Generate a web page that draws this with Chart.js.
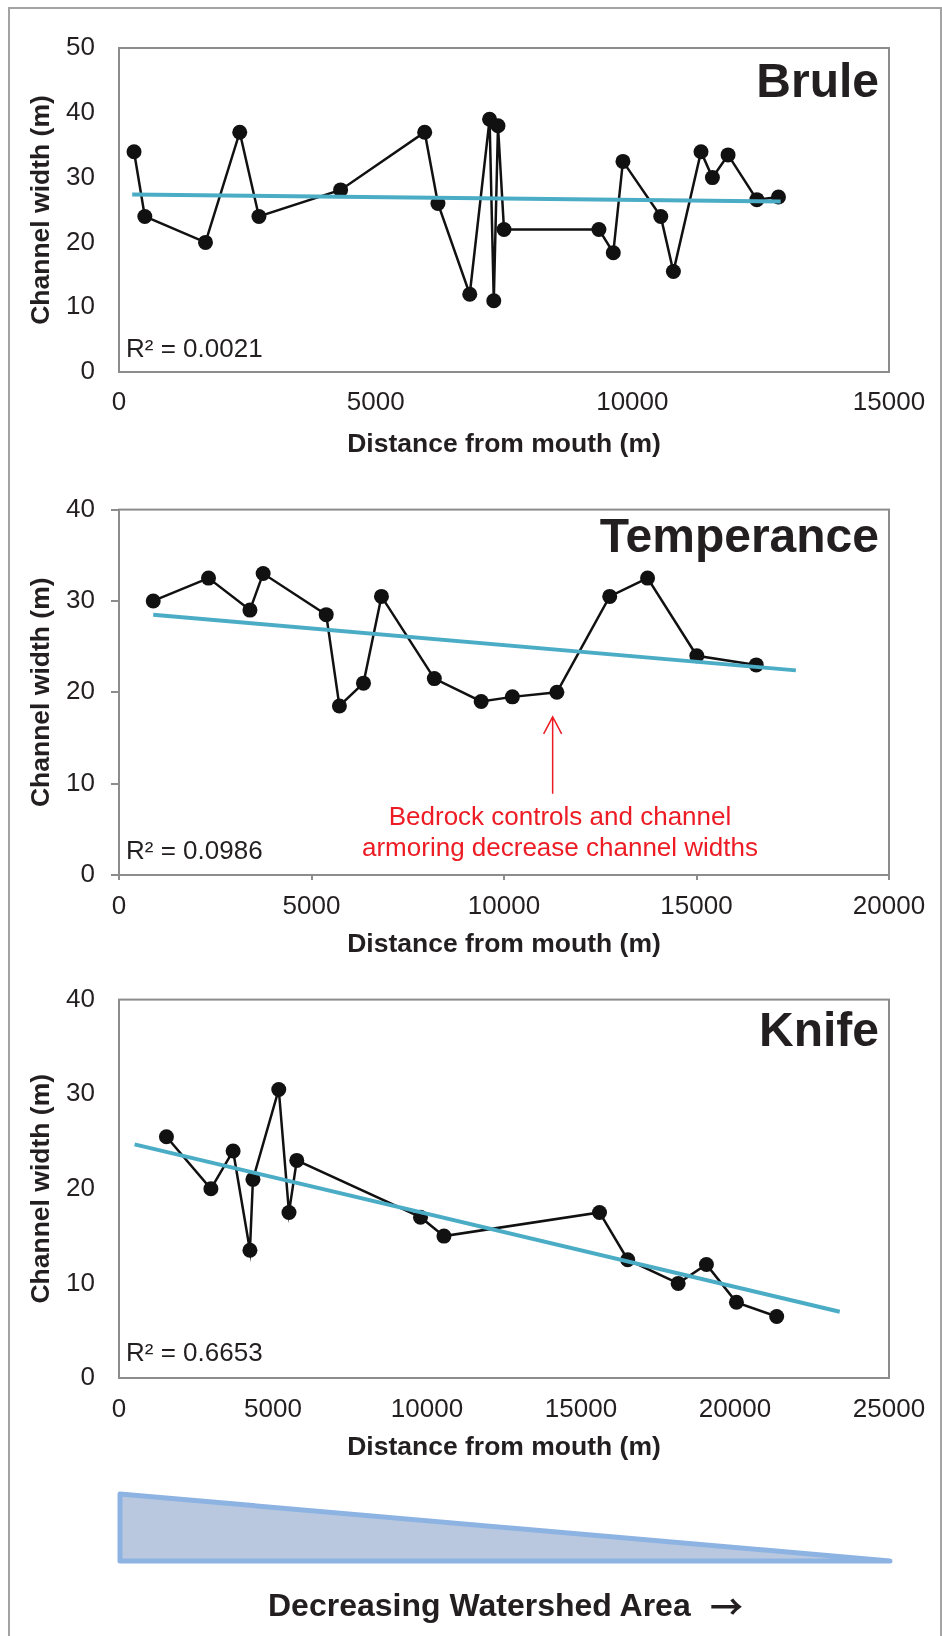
<!DOCTYPE html>
<html lang="pt">
<head>
<meta charset="UTF-8">
<script src="https://cdn.jsdelivr.net/npm/chart.js"></script>
<title>Channel width</title>
<style>
  body { margin: 0; background: #fff; width: 942px; height: 1636px; position: relative; overflow: hidden;
         font-family: 'Liberation Sans', Arial, sans-serif; color: #231f20; }
  .quadro { position: absolute; left: 8px; top: 7px; width: 934px; height: 1700px; border: 2px solid #a3a3a3; box-sizing: border-box; }
  canvas { position: absolute; left: 0; }
  .rio { position: absolute; right: 63px; font-size: 48px; line-height: 47px; font-weight: bold; white-space: nowrap; }
  .r2 { position: absolute; left: 126px; font-size: 26px; line-height: 26px; white-space: nowrap; }
  .nota { position: absolute; left: 360px; width: 400px; text-align: center; top: 801px; font-size: 26px; line-height: 31px; color: #ed1c24; white-space: nowrap; }
  .rodape { position: absolute; top: 1590px; font-size: 32px; line-height: 30px; font-weight: bold; white-space: nowrap; }
  .flecha { position: absolute; top: 1590px; left: 710px; font-family: 'Noto Sans CJK SC', 'DejaVu Sans', sans-serif; font-size: 33px; line-height: 30px; font-weight: bold; }
</style>
</head>
<body>
<div class="quadro"></div>

<canvas id="grafBrule" width="942" height="470" style="top:0px"></canvas>
<canvas id="grafTemperance" width="942" height="500" style="top:470px"></canvas>
<canvas id="grafKnife" width="942" height="513" style="top:960px"></canvas>

<div class="rio" style="top:57px">Brule</div>
<div class="rio" style="top:512px">Temperance</div>
<div class="rio" style="top:1006px">Knife</div>

<div class="r2" style="top:335px">R² = 0.0021</div>
<div class="r2" style="top:837px">R² = 0.0986</div>
<div class="r2" style="top:1339px">R² = 0.6653</div>

<div class="nota">Bedrock controls and channel<br>armoring decrease channel widths</div>

<svg style="position:absolute;left:0;top:0" width="942" height="1636">
  <polygon points="120,1494 120,1561 890,1561" fill="#b9c8df" stroke="#8db3e2" stroke-width="5" stroke-linejoin="round"/>
</svg>
<div class="rodape" style="left:268px">Decreasing Watershed Area</div>
<div class="flecha">→</div>

<script>
// Brule
const bruleDist = [293, 503, 1685, 2352, 2726, 4317, 5955, 6213, 6833, 7219, 7301, 7383, 7500, 9349, 9629, 9817, 10554, 10800, 11338, 11560, 11865, 12426, 12847];
const bruleLarg = [34, 24, 20, 37, 24, 28.1, 37, 26, 12, 39, 11, 38, 22, 22, 18.4, 32.5, 24, 15.5, 34, 30, 33.5, 26.6, 27];
const bruleTendX = [257, 12890];
const bruleTendY = [27.4, 26.3];

// Temperance
const tempDist = [889, 2325, 3401, 3744, 5382, 5725, 6350, 6817, 8190, 9407, 10218, 11373, 12746, 13729, 15008, 16552];
const tempLarg = [30, 32.5, 29, 33, 28.5, 18.5, 21, 30.5, 21.5, 19, 19.5, 20, 30.5, 32.5, 24, 23];
const tempTendX = [889, 17582];
const tempTendY = [28.5, 22.4];
// seta vermelha (x, base, ponta)
const setaX = 11264;
const setaY = [8.9, 17.3];

// Knife
const knifeDist = [1540, 2984, 3705, 4251, 4349, 5187, 5519, 5772, 9789, 10550, 15601, 16517, 18155, 19072, 20047, 21353];
const knifeLarg = [25.5, 20, 24, 13.5, 21, 30.5, 17.5, 23, 17, 15, 17.5, 12.5, 10, 12, 8, 6.5];
const knifeTendX = [507, 23401];
const knifeTendY = [24.7, 7.0];

const fonte = "'Liberation Sans', Arial, sans-serif";
const corTexto = '#231f20';

function pares(xs, ys) {
    return xs.map(function (x, i) { return { x: x, y: ys[i] }; });
}

// moldura da area do grafico + marcas de escala (so Temperance) + seta
const moldura = {
    id: 'moldura',
    beforeDatasetsDraw(chart, args, opts) {
        const ctx = chart.ctx;
        const a = chart.chartArea;
        ctx.save();
        ctx.strokeStyle = '#8c8c8c';
        ctx.lineWidth = 2;
        ctx.strokeRect(a.left, a.top, a.right - a.left, a.bottom - a.top);
        if (opts.marcas) {
            chart.scales.y.ticks.forEach(function (t) {
                const py = Math.round(chart.scales.y.getPixelForValue(t.value));
                ctx.beginPath(); ctx.moveTo(a.left - 8, py); ctx.lineTo(a.left, py); ctx.stroke();
            });
            chart.scales.x.ticks.forEach(function (t) {
                const px = Math.round(chart.scales.x.getPixelForValue(t.value));
                ctx.beginPath(); ctx.moveTo(px, a.bottom); ctx.lineTo(px, a.bottom + 5); ctx.stroke();
            });
        }
        ctx.restore();
    },
    afterDatasetsDraw(chart, args, opts) {
        if (!opts.seta) return;
        const ctx = chart.ctx;
        const px = chart.scales.x.getPixelForValue(opts.seta.x);
        const base = chart.scales.y.getPixelForValue(opts.seta.y[0]);
        const ponta = chart.scales.y.getPixelForValue(opts.seta.y[1]);
        ctx.save();
        ctx.strokeStyle = '#ed1c24';
        ctx.lineWidth = 1.5;
        ctx.beginPath();
        ctx.moveTo(px, base); ctx.lineTo(px, ponta);
        ctx.moveTo(px - 9, ponta + 17); ctx.lineTo(px, ponta); ctx.lineTo(px + 9, ponta + 17);
        ctx.stroke();
        ctx.restore();
    }
};

function criarGrafico(id, cfg) {
    const alturaEixoX = cfg.altura - cfg.fundo;
    return new Chart(document.getElementById(id), {
        type: 'scatter',
        data: {
            datasets: [{
                data: pares(cfg.tendX, cfg.tendY),
                showLine: true,
                borderColor: '#4bacc6',
                borderWidth: 4,
                pointRadius: 0,
                order: 0
            }, {
                data: pares(cfg.dist, cfg.larg),
                showLine: true,
                borderColor: '#111111',
                borderWidth: 2.5,
                pointRadius: 7.5,
                pointBackgroundColor: '#111111',
                pointBorderWidth: 0,
                order: 1
            }]
        },
        plugins: [moldura],
        options: {
            responsive: false,
            animation: false,
            devicePixelRatio: 1,
            layout: { padding: { top: cfg.topo, right: 53, bottom: 0, left: 0 } },
            plugins: {
                legend: { display: false },
                tooltip: { enabled: false },
                moldura: { marcas: cfg.marcas, seta: cfg.seta }
            },
            scales: {
                x: {
                    type: 'linear',
                    min: 0,
                    max: cfg.xMax,
                    grid: { display: false, drawTicks: false },
                    border: { display: false },
                    ticks: {
                        stepSize: cfg.xPasso,
                        padding: cfg.padX,
                        color: corTexto,
                        font: { family: fonte, size: 26 },
                        maxRotation: 0,
                        callback: function (v) { return String(v); }
                    },
                    title: {
                        display: true,
                        text: 'Distance from mouth (m)',
                        color: corTexto,
                        font: { family: fonte, size: 26.5, weight: 'bold' },
                        padding: { top: 0, bottom: 9 }
                    },
                    afterFit: function (s) { s.height = alturaEixoX; }
                },
                y: {
                    min: 0,
                    max: cfg.yMax,
                    grid: { display: false, drawTicks: false },
                    border: { display: false },
                    ticks: {
                        stepSize: 10,
                        padding: 24,
                        color: corTexto,
                        font: { family: fonte, size: 26 }
                    },
                    title: {
                        display: true,
                        text: 'Channel width (m)',
                        color: corTexto,
                        font: { family: fonte, size: 26.5, weight: 'bold' },
                        padding: { top: 26, bottom: 0 }
                    },
                    afterFit: function (s) { s.width = 119; }
                }
            }
        }
    });
}

criarGrafico('grafBrule', {
    dist: bruleDist, larg: bruleLarg, tendX: bruleTendX, tendY: bruleTendY,
    xMax: 15000, xPasso: 5000, yMax: 50,
    altura: 470, topo: 48, fundo: 372, padX: 15, marcas: false
});

criarGrafico('grafTemperance', {
    dist: tempDist, larg: tempLarg, tendX: tempTendX, tendY: tempTendY,
    xMax: 20000, xPasso: 5000, yMax: 40,
    altura: 500, topo: 32, fundo: 405, padX: 16, marcas: true,
    seta: { x: setaX, y: setaY }
});

criarGrafico('grafKnife', {
    dist: knifeDist, larg: knifeLarg, tendX: knifeTendX, tendY: knifeTendY,
    xMax: 25000, xPasso: 5000, yMax: 40,
    altura: 513, topo: 33, fundo: 418, padX: 16, marcas: false
});
</script>
</body>
</html>
